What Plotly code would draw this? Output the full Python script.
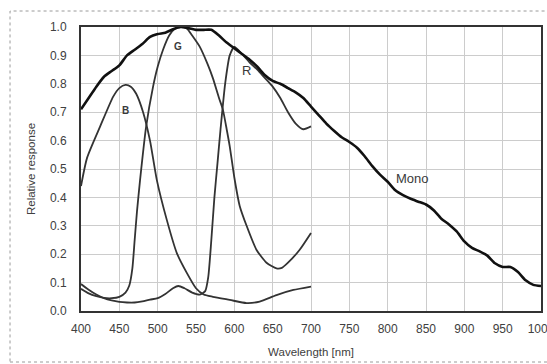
import plotly.graph_objects as go

# ---- data ----
mono_wl = [400, 410, 420, 430, 440, 450, 460, 470, 480, 490, 500, 510, 520, 530, 540, 550, 560, 570,
           580, 590, 600, 610, 620, 630, 640, 650, 660, 670, 680, 690, 700, 710, 720, 730, 740, 750,
           760, 770, 780, 790, 800, 810, 820, 830, 840, 850, 860, 870, 880, 890, 900, 910, 920, 930,
           940, 950, 960, 970, 980, 990, 1000]
mono = [0.71, 0.75, 0.79, 0.825, 0.845, 0.865, 0.9, 0.92, 0.94, 0.965, 0.975, 0.98, 0.992, 1.0, 0.996,
        0.99, 0.99, 0.99, 0.97, 0.945, 0.925, 0.905, 0.885, 0.86, 0.83, 0.81, 0.80, 0.785, 0.77, 0.75,
        0.72, 0.69, 0.66, 0.635, 0.612, 0.595, 0.575, 0.545, 0.51, 0.48, 0.455, 0.425, 0.408, 0.395,
        0.385, 0.375, 0.355, 0.325, 0.305, 0.28, 0.245, 0.222, 0.21, 0.195, 0.168, 0.155, 0.155, 0.137,
        0.108, 0.092, 0.088]

b_wl = [400, 408, 425, 442, 450, 458, 465, 472, 481, 490, 499, 512, 525, 538, 550, 560, 572, 594,
        616, 633, 655, 677, 700]
b_resp = [0.44, 0.54, 0.65, 0.755, 0.785, 0.796, 0.79, 0.765, 0.70, 0.60, 0.46, 0.32, 0.204, 0.134,
          0.08, 0.058, 0.05, 0.039, 0.028, 0.033, 0.056, 0.074, 0.086]

g_wl = [400, 410, 420, 430, 440, 450, 458, 463, 467, 470, 473, 477, 485, 494, 500, 507, 515, 522,
        530, 538, 545, 555, 565, 572, 580, 585, 590, 594, 600, 607, 616, 629, 642, 655, 662, 670,
        685, 700]
g_resp = [0.078, 0.062, 0.052, 0.046, 0.045, 0.05, 0.065, 0.09, 0.15, 0.25, 0.35, 0.46, 0.65, 0.79,
          0.86, 0.92, 0.97, 0.993, 1.0, 0.995, 0.97, 0.93, 0.87, 0.82, 0.75, 0.71, 0.64, 0.58, 0.47,
          0.37, 0.30, 0.215, 0.17, 0.15, 0.152, 0.17, 0.215, 0.275]

r_wl = [400, 410, 420, 430, 440, 450, 460, 470, 480, 490, 500, 510, 520, 527, 535, 545, 555, 562,
        566, 570, 574, 578, 582, 588, 594, 600, 610, 620, 630, 640, 650, 660, 670, 680, 690, 700]
r_resp = [0.095, 0.075, 0.058, 0.045, 0.037, 0.032, 0.03, 0.03, 0.034, 0.04, 0.045, 0.06, 0.08, 0.088,
          0.08, 0.065, 0.058, 0.07, 0.12, 0.25, 0.40, 0.52, 0.64, 0.80, 0.90, 0.93, 0.905, 0.875,
          0.85, 0.82, 0.79, 0.75, 0.70, 0.66, 0.64, 0.65]

x_ticks = list(range(400, 1001, 50))
y_ticks = [round(i * 0.1, 1) for i in range(11)]

FONT = "Liberation Sans, Arial, sans-serif"
TXT = "#404040"

fig = go.Figure()
for wl, vals, col, w in [(b_wl, b_resp, "#333333", 1.8), (g_wl, g_resp, "#333333", 1.8),
                         (r_wl, r_resp, "#333333", 1.8), (mono_wl, mono, "#111111", 2.6)]:
    fig.add_trace(go.Scatter(x=wl, y=vals, mode="lines",
                             line=dict(color=col, width=w, shape="spline", smoothing=0.6),
                             showlegend=False, hoverinfo="skip"))

labels = [("B", 458, 0.705, 10, "Liberation Sans Narrow, Liberation Sans, Arial", True),
          ("G", 527, 0.93, 10, "Liberation Sans Narrow, Liberation Sans, Arial", True),
          ("R", 616, 0.846, 13, FONT, False),
          ("Mono", 833, 0.465, 13, FONT, False)]
for t, x, y, s, f, bold in labels:
    fig.add_annotation(x=x, y=y, text=f"<b>{t}</b>" if bold else t, showarrow=False,
                       font=dict(size=s, family=f, color="#3a3a3a"))

# dotted outer border
fig.add_shape(type="rect", xref="paper", yref="paper", x0=-0.1543, x1=1.03, y0=-0.1796, y1=1.0563,
              line=dict(color="#9a9a9a", width=1, dash="dot"), fillcolor="rgba(0,0,0,0)", layer="above")

fig.update_layout(
    width=547, height=364,
    margin=dict(l=81, r=6, t=27, b=53, autoexpand=False),
    paper_bgcolor="white", plot_bgcolor="white",
    font=dict(family=FONT, color=TXT, size=12),
    xaxis=dict(range=[400, 1000], tickvals=x_ticks, ticktext=[str(v) for v in x_ticks],
               showgrid=True, gridcolor="#cccccc", gridwidth=1,
               showline=True, linecolor="#333333", linewidth=2, mirror=True,
               zeroline=False, ticks="outside", ticklen=6, tickcolor="rgba(0,0,0,0)",
               automargin=False, ticklabeloverflow="allow",
               tickfont=dict(size=12, color=TXT),
               title=dict(text="Wavelength [nm]", font=dict(size=11.5, color=TXT), standoff=13)),
    yaxis=dict(range=[0, 1.0], tickvals=y_ticks, ticktext=[f"{v:.1f}" for v in y_ticks],
               showgrid=True, gridcolor="#cccccc", gridwidth=1,
               showline=True, linecolor="#333333", linewidth=2, mirror=True,
               zeroline=False, ticks="outside", ticklen=10, tickcolor="rgba(0,0,0,0)",
               automargin=False, ticklabeloverflow="allow",
               tickfont=dict(size=12, color=TXT),
               title=dict(text="Relative response", font=dict(size=11.5, color=TXT), standoff=12)),
)

fig.write_html("out.html", config={"displayModeBar": False},
               post_script="document.body.style.margin='0';")
